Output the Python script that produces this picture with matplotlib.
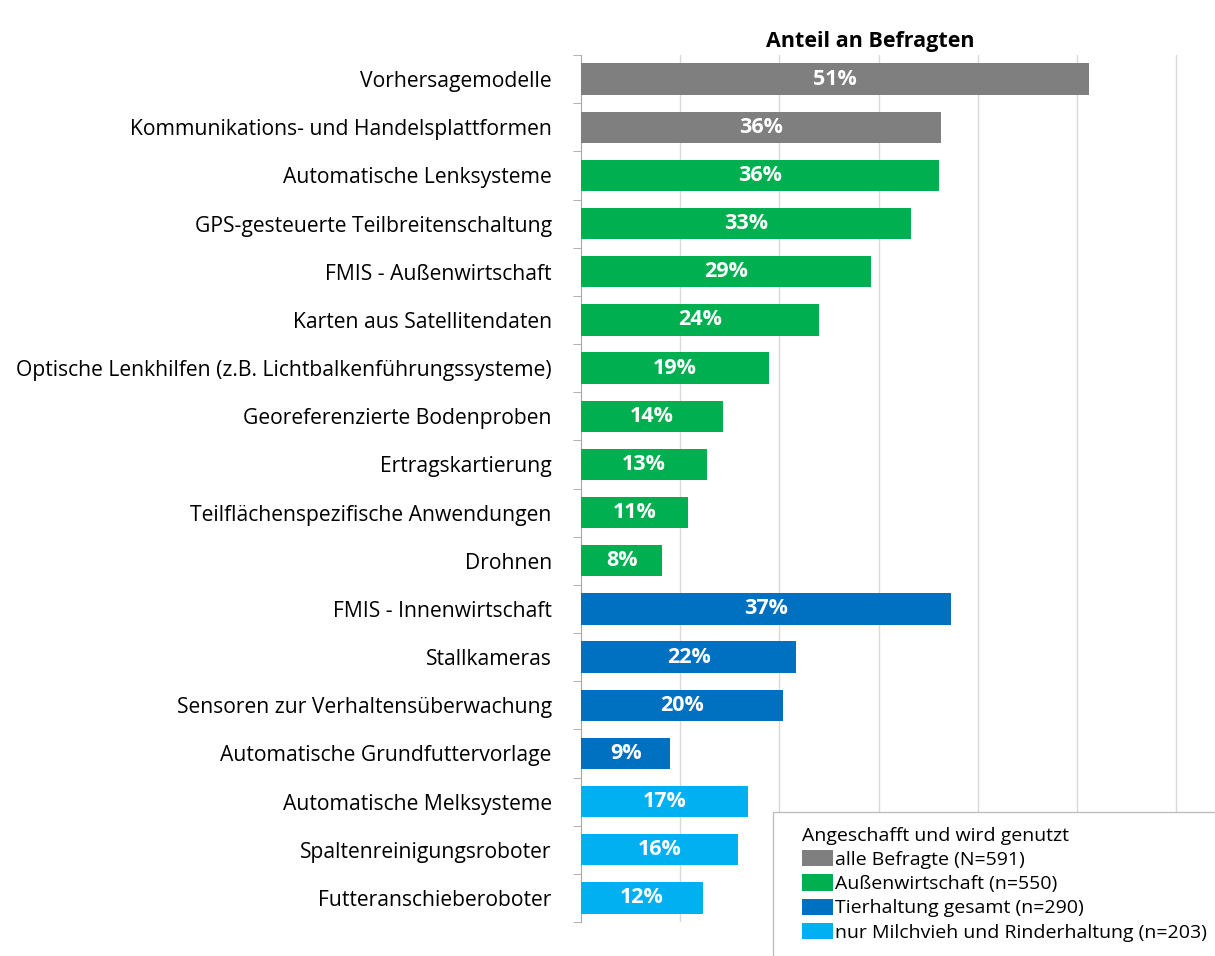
import matplotlib.pyplot as plt
from matplotlib.patches import Patch, Rectangle

plt.rcParams['font.family'] = ['Open Sans', 'DejaVu Sans']

# data
labels = [
    "Vorhersagemodelle",
    "Kommunikations- und Handelsplattformen",
    "Automatische Lenksysteme",
    "GPS-gesteuerte Teilbreitenschaltung",
    "FMIS - Außenwirtschaft",
    "Karten aus Satellitendaten",
    "Optische Lenkhilfen (z.B. Lichtbalkenführungssysteme)",
    "Georeferenzierte Bodenproben",
    "Ertragskartierung",
    "Teilflächenspezifische Anwendungen",
    "Drohnen",
    "FMIS - Innenwirtschaft",
    "Stallkameras",
    "Sensoren zur Verhaltensüberwachung",
    "Automatische Grundfuttervorlage",
    "Automatische Melksysteme",
    "Spaltenreinigungsroboter",
    "Futteranschieberoboter",
]
values = [51.2, 36.3, 36.1, 33.3, 29.2, 24.0, 18.9, 14.3, 12.7, 10.8, 8.2,
          37.3, 21.7, 20.4, 9.0, 16.8, 15.8, 12.3]
groups = [0, 0, 1, 1, 1, 1, 1, 1, 1, 1, 1, 2, 2, 2, 2, 3, 3, 3]

group_names = ["alle Befragte (N=591)", "Außenwirtschaft (n=550)",
               "Tierhaltung gesamt (n=290)", "nur Milchvieh und Rinderhaltung (n=203)"]
group_colors = ["#7F7F7F", "#00B050", "#0070C0", "#00B0F0"]

fig = plt.figure(figsize=(12.15, 9.56), dpi=100)
ax = fig.add_axes([581 / 1215, 1 - 922 / 956, 1 - 581 / 1215, (922 - 55) / 956])

n = len(labels)
ypos = list(range(n))
colors = [group_colors[g] for g in groups]
bars = ax.barh(ypos, values, height=0.65, color=colors, zorder=3)

for b, v in zip(bars, values):
    ax.text(v / 2, b.get_y() + b.get_height() / 2, f"{v:.0f}%",
            ha="center", va="center", color="white", fontsize=15.5,
            fontweight="bold", zorder=4)

ax.set_ylim(n - 0.5, -0.5)
ax.set_xlim(0, 63.9)
ax.set_yticks(ypos)
ax.set_yticklabels(labels, fontsize=15.2)
ax.tick_params(axis="y", which="major", length=0, pad=21)
ax.set_yticks([i - 0.5 for i in range(n + 1)], minor=True)
ax.tick_params(axis="y", which="minor", length=6, color="#A6A6A6", direction="out")

ax.set_xticks([10, 20, 30, 40, 50, 60])
ax.tick_params(axis="x", length=0, labelbottom=False)
ax.grid(axis="x", color="#D9D9D9", linewidth=1, zorder=0)

for s in ["top", "right", "bottom"]:
    ax.spines[s].set_visible(False)
ax.spines["left"].set_color("#A6A6A6")

fig.text(870 / 1215, 1 - 42 / 956, "Anteil an Befragten", ha="center", va="center",
         fontsize=15.5, fontweight="bold")

# legend frame runs off the right and bottom edge like in the original
fig.add_artist(Rectangle((773 / 1215, -0.05), 0.5, 0.05 + (956 - 812) / 956,
                         transform=fig.transFigure, facecolor="white",
                         edgecolor="#BFBFBF", linewidth=1, zorder=5))

handles = [Patch(facecolor=c, edgecolor="none") for c in group_colors]
leg = fig.legend(handles, group_names, title="Angeschafft und wird genutzt",
                 loc="upper left", bbox_to_anchor=(792 / 1215, 1 - 817 / 956),
                 fontsize=14, title_fontsize=14, frameon=False,
                 handlelength=1.6, handleheight=0.9,
                 labelspacing=0.28, handletextpad=0.1, borderpad=0.0)
leg._legend_box.align = "left"
leg.set_zorder(6)

fig.savefig("out.png", dpi=100)
